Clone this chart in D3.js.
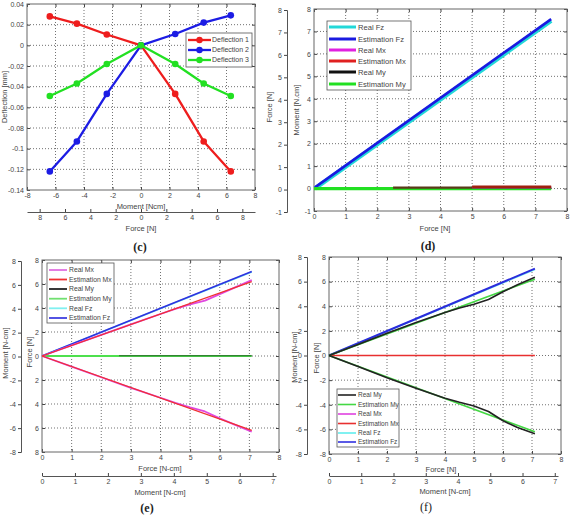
<!DOCTYPE html>
<html lang="en">
<head>
<meta charset="UTF-8">
<title>Deflection, force and moment estimation</title>
<script src="https://d3js.org/d3.v7.min.js"></script>
<style>
  body { margin: 0; background: #fff; }
  svg { display: block; font-family: "Liberation Sans", Arial, sans-serif; }
  .tick text { fill: #444; font-size: 7px; font-family: "Liberation Sans", Arial, sans-serif; }
  .tick line { stroke: #444; }
  .grid line { stroke: #333; stroke-dasharray: 1,2; stroke-width: 0.7; }
  .frame { fill: none; stroke: #666; stroke-width: 1; }
  .title { fill: #444; font-size: 7.5px; }
  .caption { font-family: "Liberation Serif", serif; font-size: 12px; font-weight: bold; fill: #222; }
  .legend rect { fill: #fff; stroke: #555; stroke-width: 0.8; }
  .legend text { fill: #444; }
</style>
</head>
<body>
<div id="chart"></div>
<script>
// ---- (c) deflection vs moment ----
const cMoment = [-6.4, -4.5, -2.4, 0, 2.4, 4.4, 6.3];
const cDeflection1 = [0.028, 0.021, 0.0105, 0, -0.047, -0.093, -0.122];
const cDeflection2 = [-0.122, -0.093, -0.047, 0, 0.011, 0.022, 0.029];
const cDeflection3 = [-0.049, -0.037, -0.018, 0, -0.018, -0.037, -0.049];
const cMomentTicks = [-8, -6, -4, -2, 0, 2, 4, 6, 8];
const cForceTicks = [-8, -6, -4, -2, 0, 2, 4, 6, 8];
const cDeflTicks = [0.04, 0.02, 0, -0.02, -0.04, -0.06, -0.08, -0.1, -0.12, -0.14];

// ---- (d) ----
const dFzX = [0.03, 7.5];
const dRealFz = [0, 7.47];
const dEstFz = [0.05, 7.55];
const dEstMyX = [0, 7.5];
const dEstMy = [0, 0];
const dRealMyX = [2.5, 7.5];
const dRealMy = [0.04, 0.04];
const dMxX = [5, 7.5];
const dRealMx = [0.06, 0.06];
const dEstMx = [0.08, 0.08];
const dForceTicks = [0, 1, 2, 3, 4, 5, 6, 7, 8];
const dYTicks = [-1, 0, 1, 2, 3, 4, 5, 6, 7, 8];

// ---- (e) ----
const eForce = [0, 1, 2, 3, 4, 4.5, 5, 5.5, 6, 6.5, 7.08];
const eRealMxUp = [0, 0.88, 1.76, 2.64, 3.5, 3.92, 4.3, 4.62, 5.15, 5.7, 6.32];
const eRealMxDown = [0, -0.88, -1.77, -2.65, -3.48, -3.9, -4.28, -4.62, -5.2, -5.72, -6.3];
const eLineX = [0, 7.08];
const eEstMxUp = [0, 6.2];
const eEstMxDown = [0, -6.2];
const eRealFz = [0, 7.0];
const eEstFz = [0, 7.05];
const eEstMy = [0, 0];
const eRealMyX = [2.6, 7.08];
const eRealMy = [0.02, 0.02];

// ---- (f) ----
const fForce = [0, 1, 2, 3, 4, 4.5, 5, 5.5, 6, 6.5, 7.1];
const fRealMyUp = [0, 0.9, 1.8, 2.68, 3.5, 3.85, 4.17, 4.55, 5.18, 5.75, 6.35];
const fRealMyDown = [0, -0.9, -1.8, -2.66, -3.47, -3.8, -4.1, -4.55, -5.3, -5.85, -6.35];
const fLineX = [0, 7.1];
const fEstMyUp = [0, 6.2];
const fEstMyDown = [0, -6.2];
const fEstMx = [0, 0];
const fRealFz = [0, 7.0];
const fEstFz = [0, 7.05];

const efForceTicks = [0, 1, 2, 3, 4, 5, 6, 7, 8];
const efMomentTicks = [0, 1, 2, 3, 4, 5, 6, 7];
const efYTicks = [8, 6, 4, 2, 0, -2, -4, -6, -8];

const svg = d3.select("#chart").append("svg")
  .attr("width", 570).attr("height", 515);

const clean = g => g.select(".domain").remove();
const str = d => String(d);
const abs = d => String(Math.abs(d));

function plotBox(box, xDomain, yDomain, xTicks, yTicks, yFmt) {
  const x = d3.scaleLinear().domain(xDomain).range([box.l, box.r]);
  const y = d3.scaleLinear().domain(yDomain).range([box.b, box.t]);
  const grid = svg.append("g").attr("class", "grid");
  grid.selectAll(".gx").data(xTicks.filter(d => d > xDomain[0] && d < xDomain[1])).join("line")
    .attr("class", "gx")
    .attr("x1", d => x(d)).attr("x2", d => x(d))
    .attr("y1", box.t).attr("y2", box.b);
  grid.selectAll(".gy").data(yTicks.filter(d => d > yDomain[0] && d < yDomain[1])).join("line")
    .attr("class", "gy")
    .attr("y1", d => y(d)).attr("y2", d => y(d))
    .attr("x1", box.l).attr("x2", box.r);

  svg.append("g").attr("transform", `translate(0,${box.b})`)
    .call(d3.axisBottom(x).tickValues(xTicks).tickSizeInner(-3).tickSizeOuter(0).tickPadding(3).tickFormat(str))
    .call(clean);
  svg.append("g").attr("transform", `translate(0,${box.t})`)
    .call(d3.axisTop(x).tickValues(xTicks).tickSizeInner(-3).tickSizeOuter(0).tickFormat(""))
    .call(clean);
  svg.append("g").attr("transform", `translate(${box.l},0)`)
    .call(d3.axisLeft(y).tickValues(yTicks).tickSizeInner(-3).tickSizeOuter(0).tickPadding(3).tickFormat(yFmt))
    .call(clean);
  svg.append("g").attr("transform", `translate(${box.r},0)`)
    .call(d3.axisRight(y).tickValues(yTicks).tickSizeInner(-3).tickSizeOuter(0).tickFormat(""))
    .call(clean);
  svg.append("rect").attr("class", "frame")
    .attr("x", box.l).attr("y", box.t)
    .attr("width", box.r - box.l).attr("height", box.b - box.t);
  return { x, y };
}

function outerAxis(axis, pos, horizontal) {
  const g = svg.append("g")
    .attr("transform", horizontal ? `translate(0,${pos})` : `translate(${pos},0)`)
    .call(axis);
  g.select(".domain").attr("stroke", "#555");
  return g;
}

function series(p, xs, ys, color, width, opacity) {
  svg.append("path")
    .datum(xs.map((d, i) => [d, ys[i]]))
    .attr("fill", "none")
    .attr("stroke", color)
    .attr("stroke-width", width)
    .attr("stroke-opacity", opacity || 1)
    .attr("stroke-linejoin", "round")
    .attr("d", d3.line().x(d => p.x(d[0])).y(d => p.y(d[1])));
}

function title(x, y, text, rotate) {
  svg.append("text").attr("class", "title")
    .attr("transform", `translate(${x},${y})` + (rotate ? " rotate(-90)" : ""))
    .attr("text-anchor", "middle").attr("dy", "0.35em")
    .text(text);
}

function caption(x, y, text, bold) {
  svg.append("text").attr("class", "caption")
    .attr("x", x).attr("y", y).attr("dy", "0.35em")
    .attr("text-anchor", "middle")
    .style("font-weight", bold ? "bold" : "normal")
    .text(text);
}

function legend(box, items, lx0, lx1, tx, ys, width, fontSize, marker) {
  const g = svg.append("g").attr("class", "legend");
  g.append("rect").attr("x", box.l).attr("y", box.t)
    .attr("width", box.r - box.l).attr("height", box.b - box.t);
  items.forEach((it, i) => {
    g.append("line").attr("x1", lx0).attr("x2", lx1).attr("y1", ys[i]).attr("y2", ys[i])
      .attr("stroke", it.color).attr("stroke-width", width);
    if (marker) {
      g.append("circle").attr("cx", (lx0 + lx1) / 2).attr("cy", ys[i]).attr("r", 3.2)
        .attr("fill", it.color);
    }
    g.append("text").attr("x", tx).attr("y", ys[i]).attr("dy", "0.35em")
      .style("font-size", fontSize + "px").text(it.name);
  });
}

// ================= (c) =================
{
  const p = plotBox({ l: 27, r: 255, t: 4, b: 190 }, [-8, 8], [-0.14, 0.04], cMomentTicks, cDeflTicks, str);
  const sets = [
    { name: "Deflection 1", color: "#ee1d1d", ys: cDeflection1 },
    { name: "Deflection 2", color: "#1c1ce4", ys: cDeflection2 },
    { name: "Deflection 3", color: "#22e022", ys: cDeflection3 }
  ];
  sets.forEach(s => {
    series(p, cMoment, s.ys, s.color, 2.3);
    svg.append("g").selectAll("circle").data(cMoment).join("circle")
      .attr("cx", d => p.x(d)).attr("cy", (d, i) => p.y(s.ys[i])).attr("r", 3.3)
      .attr("fill", s.color);
  });
  legend({ l: 186, r: 252, t: 33, b: 67 }, sets, 188, 211, 212, [40, 50, 60], 2.3, 7, true);

  const fx = d3.scaleLinear().domain([-9, 9]).range([27, 255]);
  outerAxis(d3.axisBottom(fx).tickValues(cForceTicks).tickSizeInner(-3).tickSizeOuter(0).tickPadding(3).tickFormat(abs), 212, true);
  title(4, 97, "Deflection [mm]", true);
  title(141, 206, "Moment [Ncm]");
  title(141, 228, "Force [N]");
  caption(140, 247, "(c)", true);
}

// ================= (d) =================
{
  const p = plotBox({ l: 314, r: 567, t: 9, b: 211 }, [0, 8], [-1, 8], dForceTicks, dYTicks, str);
  series(p, dFzX, dRealFz, "#22d8d8", 4.2);
  series(p, dFzX, dEstFz, "#1a1ae0", 2.6);
  series(p, dEstMyX, dEstMy, "#22e022", 3.2);
  series(p, dRealMyX, dRealMy, "#5a3a1a", 2.2);
  series(p, dMxX, dRealMx, "#e020e0", 2);
  series(p, dMxX, dEstMx, "#a02010", 2.4);
  legend({ l: 327, r: 411, t: 21, b: 90 }, [
    { name: "Real Fz", color: "#22d8d8" },
    { name: "Estimation Fz", color: "#1a1ae0" },
    { name: "Real Mx", color: "#e020e0" },
    { name: "Estimation Mx", color: "#e02020" },
    { name: "Real My", color: "#111" },
    { name: "Estimation My", color: "#22e022" }
  ], 329, 356, 358, [27, 39, 50, 61, 72, 84], 3, 7.6, false);

  const fy = d3.scaleLinear().domain([-1, 8]).range([212, 10]);
  outerAxis(d3.axisLeft(fy).tickValues(dYTicks).tickSize(3).tickPadding(2).tickFormat(str), 287, false);
  title(269, 107, "Force [N]", true);
  title(296, 110, "Moment [N.cm]", true);
  title(435, 228, "Force [N]");
  caption(428, 246, "(d)", true);
}

// ================= (e) =================
{
  const p = plotBox({ l: 42, r: 279, t: 260, b: 452 }, [0, 8], [-8, 8], efForceTicks, efYTicks, abs);
  series(p, eLineX, eRealFz, "#70eeee", 1.8);
  series(p, eLineX, eEstFz, "#3030e0", 1.6);
  series(p, eLineX, eEstMy, "#4ee04e", 1.8);
  series(p, eRealMyX, eRealMy, "#111", 1.2, 0.6);
  series(p, eForce, eRealMxUp, "#e048e0", 1.8);
  series(p, eForce, eRealMxDown, "#e048e0", 1.8);
  series(p, eLineX, eEstMxUp, "#f03030", 1.3);
  series(p, eLineX, eEstMxDown, "#f03030", 1.3);
  legend({ l: 47, r: 114, t: 263, b: 323 }, [
    { name: "Real Mx", color: "#e070e0" },
    { name: "Estimation Mx", color: "#f03030" },
    { name: "Real My", color: "#222" },
    { name: "Estimation My", color: "#70e070" },
    { name: "Real Fz", color: "#80f0f0" },
    { name: "Estimation Fz", color: "#4040e0" }
  ], 49, 67, 69, [270, 279.5, 289, 298.7, 308.3, 318], 1.8, 6.8, false);

  const my = d3.scaleLinear().domain([-8, 8]).range([452, 261]);
  outerAxis(d3.axisLeft(my).tickValues(efYTicks).tickSize(3).tickPadding(2).tickFormat(str), 21, false);
  const mx = d3.scaleLinear().domain([0, 7.1]).range([42, 276]);
  outerAxis(d3.axisBottom(mx).tickValues(efMomentTicks).tickSizeInner(-3).tickSizeOuter(0).tickPadding(3).tickFormat(str), 476, true);
  title(5, 353, "Moment [N-cm]", true);
  title(29, 352, "Force [N]", true);
  title(160, 468, "Force [N-cm]");
  title(160, 492, "Moment [N-cm]");
  caption(147, 508, "(e)", true);
}

// ================= (f) =================
{
  const p = plotBox({ l: 329, r: 561, t: 257, b: 454 }, [0, 8], [-8, 8], efForceTicks, efYTicks, str);
  series(p, fLineX, fRealFz, "#70eeee", 1.8);
  series(p, fLineX, fEstFz, "#2b2bdc", 2);
  series(p, fLineX, fEstMx, "#e83030", 1.4);
  series(p, fLineX, fEstMyUp, "#44d844", 1.6);
  series(p, fLineX, fEstMyDown, "#44d844", 1.6);
  series(p, fForce, fRealMyUp, "#222", 1.6);
  series(p, fForce, fRealMyDown, "#222", 1.6);
  legend({ l: 337, r: 399, t: 389, b: 447 }, [
    { name: "Real My", color: "#222" },
    { name: "Estimation My", color: "#44d844" },
    { name: "Real Mx", color: "#e040e0" },
    { name: "Estimation Mx", color: "#e83030" },
    { name: "Real Fz", color: "#60eeee" },
    { name: "Estimation Fz", color: "#3030e0" }
  ], 338, 356, 358, [395, 404.5, 414, 423.5, 433, 442], 1.6, 6.5, false);

  const my = d3.scaleLinear().domain([-8, 8]).range([454, 257]);
  outerAxis(d3.axisLeft(my).tickValues(efYTicks).tickSize(3).tickPadding(2).tickFormat(str), 307, false);
  const mx = d3.scaleLinear().domain([0, 7.1]).range([329, 558]);
  outerAxis(d3.axisBottom(mx).tickValues(efMomentTicks).tickSizeInner(-3).tickSizeOuter(0).tickPadding(3).tickFormat(str), 476, true);
  title(294, 357, "Moment [N-cm]", true);
  title(316, 358, "Force [N]", true);
  title(441, 469, "Force [N]");
  title(445, 491, "Moment [N-cm]");
  caption(426, 507, "(f)", false);
}
</script>
</body>
</html>
